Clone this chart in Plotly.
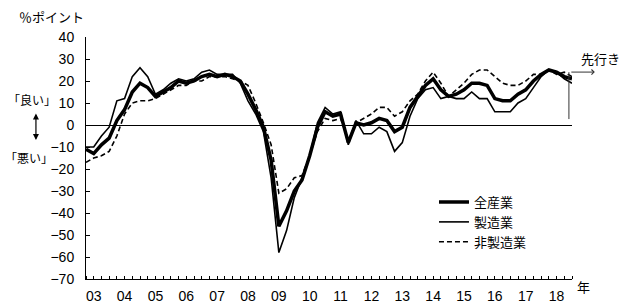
import plotly.graph_objects as go

# Quarterly business conditions DI (Dec 2002 .. Sep 2018), % points
all_ind = [-11, -13, -9, -6, 2, 7, 15, 19, 17, 13,
           15, 17, 20, 19, 20, 22, 23, 22, 23, 22,
           20, 14, 7, -1, -16, -46, -39, -30, -25, -14,
           -1, 6, 4, 5, -8, 1, 0, 1, 3, 2,
           -3, -1, 8, 13, 18, 21, 16, 13, 14, 16,
           19, 19, 18, 12, 11, 11, 14, 16, 20, 23,
           25, 24, 22, 21]
mfg = [-10, -10, -5, -1, 11, 12, 22, 26, 22, 14,
       16, 19, 21, 20, 21, 24, 25, 23, 23, 23,
       19, 11, 5, -3, -24, -58, -48, -33, -24, -14,
       1, 8, 5, 6, -9, 2, -4, -4, -1, -3,
       -12, -8, 4, 12, 16, 17, 12, 13, 12, 12,
       15, 12, 12, 6, 6, 6, 10, 12, 17, 22,
       25, 24, 21, 19]
nonmfg = [-17, -15, -14, -12, -5, 5, 10, 11, 11, 12,
          14, 16, 18, 18, 20, 20, 22, 22, 22, 21,
          20, 18, 10, 1, -9, -31, -29, -24, -23, -14,
          -3, 3, 2, 3, -7, 1, 3, 5, 8, 8,
          4, 6, 11, 14, 20, 24, 19, 13, 16, 19,
          23, 25, 25, 22, 19, 18, 18, 20, 23, 23,
          25, 23, 24, 22]
year_labels = ["03", "04", "05", "06", "07", "08", "09", "10",
               "11", "12", "13", "14", "15", "16", "17", "18"]
series_names = ["全産業", "製造業", "非製造業"]

x = list(range(len(all_ind)))
tickvals = [4 * k + 1 for k in range(len(year_labels))]

JP = "Noto Sans CJK JP"
NUM = "Liberation Sans Narrow, Arial Narrow, Liberation Sans, sans-serif"

fig = go.Figure()
fig.add_trace(go.Scatter(x=x, y=all_ind, mode="lines", name=series_names[0],
                         line=dict(color="black", width=3.5)))
fig.add_trace(go.Scatter(x=x, y=mfg, mode="lines", name=series_names[1],
                         line=dict(color="black", width=1.6)))
fig.add_trace(go.Scatter(x=x, y=nonmfg, mode="lines", name=series_names[2],
                         line=dict(color="black", width=1.6, dash="5px,3px")))

fig.update_layout(
    width=634, height=308,
    margin=dict(l=86, r=62, t=37, b=29, autoexpand=False),
    paper_bgcolor="white", plot_bgcolor="white",
    font=dict(family=JP, color="black", size=13),
    showlegend=True,
    legend=dict(x=0.716, y=0.38, xanchor="left", yanchor="top",
                font=dict(family=JP, size=13, color="black"),
                bgcolor="rgba(0,0,0,0)", borderwidth=0,
                tracegroupgap=0, itemwidth=30),
)
fig.update_xaxes(
    range=[0, 63], showgrid=False, zeroline=False, automargin=False,
    showline=True, linecolor="black", linewidth=1,
    tickmode="array", tickvals=tickvals, ticktext=year_labels,
    ticks="", tickfont=dict(family=NUM, size=14, color="black"),
    ticklabelstandoff=4,
    minor=dict(ticks="inside", dtick=1, tick0=0, ticklen=3,
               tickcolor="black", tickwidth=1, showgrid=False),
)
fig.update_yaxes(
    range=[-70, 40], dtick=10, tick0=0, showgrid=False, automargin=False,
    zeroline=True, zerolinecolor="black", zerolinewidth=1,
    showline=True, linecolor="black", linewidth=1,
    ticks="inside", ticklen=4, tickcolor="black",
    tickfont=dict(family=NUM, size=14, color="black"),
    ticklabelstandoff=8,
)

ann = []
ann.append(dict(text="％ポイント", xref="paper", yref="paper", x=-0.071, y=1.084,
                xanchor="center", yanchor="middle", showarrow=False,
                font=dict(family=JP, size=13)))
ann.append(dict(text="「良い」", xref="paper", yref="paper", x=-0.111, y=0.74,
                xanchor="center", yanchor="middle", showarrow=False,
                font=dict(family=JP, size=12)))
ann.append(dict(text="「悪い」", xref="paper", yref="paper", x=-0.117, y=0.504,
                xanchor="center", yanchor="middle", showarrow=False,
                font=dict(family=JP, size=12)))
# double arrow between good/bad
ann.append(dict(text="", xref="paper", yref="paper", x=-0.103, y=0.574,
                ax=0, ay=-28, axref="pixel", ayref="pixel", showarrow=True,
                arrowhead=2, startarrowhead=2, arrowside="end+start",
                arrowsize=1, arrowwidth=1.2, arrowcolor="black"))
ann.append(dict(text="年", xref="paper", yref="paper", x=1.006, y=-0.03,
                xanchor="left", yanchor="middle", showarrow=False,
                font=dict(family=JP, size=13)))
# forecast marker
ann.append(dict(text="", xref="paper", yref="paper", x=1.047, y=0.855,
                ax=-25, ay=0, axref="pixel", ayref="pixel", showarrow=True,
                arrowhead=4, arrowsize=1, arrowwidth=1, arrowcolor="#333"))
ann.append(dict(text="先行き", xref="paper", yref="paper", x=1.058, y=0.913,
                xanchor="center", yanchor="middle", showarrow=False,
                font=dict(family=JP, size=13)))
fig.update_layout(annotations=ann)
fig.add_shape(type="line", xref="x", yref="y", x0=62.6, x1=62.6, y0=24, y1=2.7,
              line=dict(color="#333", width=1))

fig.write_html("out.html")
